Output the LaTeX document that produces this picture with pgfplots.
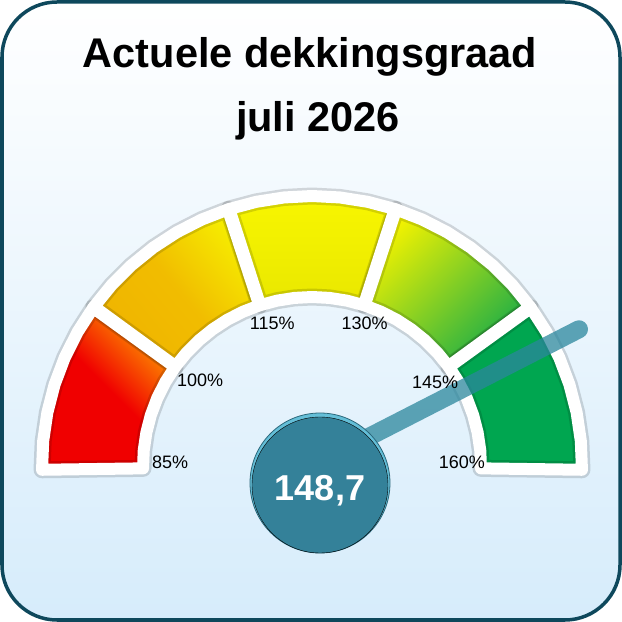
\documentclass[border=0pt]{standalone}
\usepackage{fontspec}
\setmainfont{Liberation Sans}
\usepackage{pgfplots}
\pgfplotsset{compat=1.18}
\usepgfplotslibrary{polar}
\usepackage{pgfplotstable}

\definecolor{frame}{RGB}{14,72,92}
\definecolor{bgbot}{RGB}{214,236,251}
\definecolor{redA}{RGB}{240,0,0}
\definecolor{redB}{RGB}{255,160,0}
\definecolor{ambA}{RGB}{240,180,0}
\definecolor{ambB}{RGB}{246,238,0}
\definecolor{yel}{RGB}{248,246,0}
\definecolor{ygA}{RGB}{242,242,0}
\definecolor{ygB}{RGB}{24,172,72}
\definecolor{grn}{RGB}{0,166,80}
\definecolor{needle}{RGB}{43,135,157}
\definecolor{hub}{RGB}{52,129,153}
\definecolor{hublight}{RGB}{100,190,215}

% gauge runs from 85% (180 deg) to 160% (0 deg)
\pgfmathsetmacro\dg{148.7}
\pgfmathsetmacro\needleangle{180-(\dg-85)*180/75}

% band outlines, (angle, radius)
\pgfplotstableread{
a r
180.8 270
174.69 270
168.58 270
162.48 270
156.37 270
150.26 270
144.15 270
144.15 169
150.26 169
156.37 169
162.48 169
168.58 169
174.69 169
180.8 169
}\segA
\pgfplotstableread{
a r
143.85 270
137.9 270
131.95 270
126.0 270
120.05 270
114.1 270
108.15 270
108.15 169
114.1 169
120.05 169
126.0 169
131.95 169
137.9 169
143.85 169
}\segB
\pgfplotstableread{
a r
107.85 270
101.9 270
95.95 270
90.0 270
84.05 270
78.1 270
72.15 270
72.15 169
78.1 169
84.05 169
90.0 169
95.95 169
101.9 169
107.85 169
}\segC
\pgfplotstableread{
a r
71.85 270
65.9 270
59.95 270
54.0 270
48.05 270
42.1 270
36.15 270
36.15 169
42.1 169
48.05 169
54.0 169
59.95 169
65.9 169
71.85 169
}\segD
\pgfplotstableread{
a r
35.85 270
29.74 270
23.63 270
17.53 270
11.42 270
5.31 270
-0.8 270
-0.8 169
5.31 169
11.42 169
17.53 169
23.63 169
29.74 169
35.85 169
}\segE

\newcommand\segfill[2]{%
  \addplot[seg, #2, draw=black, draw opacity=0.14, line width=17pt] table[x=a,y=r] {#1} -- cycle;}
\newcommand\segedge[1]{%
  \addplot[seg, fill=none, draw=white, line width=12pt] table[x=a,y=r] {#1} -- cycle;}

\begin{document}
\begin{tikzpicture}
\begin{axis}[
  width=622pt, height=622pt, scale only axis,
  xmin=-312, xmax=310, ymin=-156, ymax=466,
  hide axis, clip=false,
  seg/.style={data cs=polar, line join=round, mark=none},
]
\path (axis cs:-312,-156) rectangle (axis cs:310,466);
\shadedraw[top color=white, bottom color=bgbot, draw=frame, line width=3.5pt,
  rounded corners=55pt] (axis cs:-310,-154) rectangle (axis cs:308,464);

\node[font=\bfseries\fontsize{41.5}{48}\selectfont, anchor=base] at (axis cs:-2,398) {Actuele dekkingsgraad};
\node[font=\bfseries\fontsize{41.5}{48}\selectfont, anchor=base] at (axis cs:6,334) {juli 2026};

\segfill{\segA}{top color=redB, bottom color=redA, middle color=redA, shading angle=-45}
\segfill{\segB}{top color=ambB, bottom color=ambA, middle color=ambA!85!ambB, shading angle=-50}
\segfill{\segC}{top color=yel, bottom color=yel!94!black}
\segfill{\segD}{top color=ygA, bottom color=ygB, shading angle=45}
\segfill{\segE}{fill=grn}
\segedge{\segA}
\segedge{\segB}
\segedge{\segC}
\segedge{\segD}
\segedge{\segE}

% band limits
\addplot[data cs=polar, only marks, mark=none, point meta=explicit symbolic,
  nodes near coords, nodes near coords align=center,
  every node near coord/.append style={font=\fontsize{18}{20}\selectfont, text=black}]
  coordinates {(178.4,142) [85\%] (142.5,141) [100\%] (105.6,148) [115\%]
               (69.7,152) [130\%] (34.3,149) [145\%] (1.5,150) [160\%]};

% needle
\addplot[data cs=polar, draw=needle, opacity=0.75, line width=18pt, line cap=round]
  coordinates {(\needleangle,0) (\needleangle,300)};

% hub: light rim underneath, body on top, then the current value
\addplot[only marks, mark=*, mark size=70pt,
  mark options={fill=hublight, draw=hub!80!black, line width=0.8pt}]
  coordinates {(8,-17)};
\addplot[only marks, mark=*, mark size=68pt,
  mark options={fill=hub, draw=none}]
  coordinates {(8,-19)};
\addplot[only marks, mark=none,
  point meta=explicit, nodes near coords={\pgfmathprintnumber[fixed, fixed zerofill,
    precision=1, use comma, assume math mode=true]{\pgfplotspointmeta}},
  nodes near coords align=center,
  every node near coord/.append style={font=\bfseries\fontsize{36}{40}\selectfont,
    text=white, yshift=-8pt}]
  coordinates {(8,-17) [148.7]};
\end{axis}
\end{tikzpicture}
\end{document}
